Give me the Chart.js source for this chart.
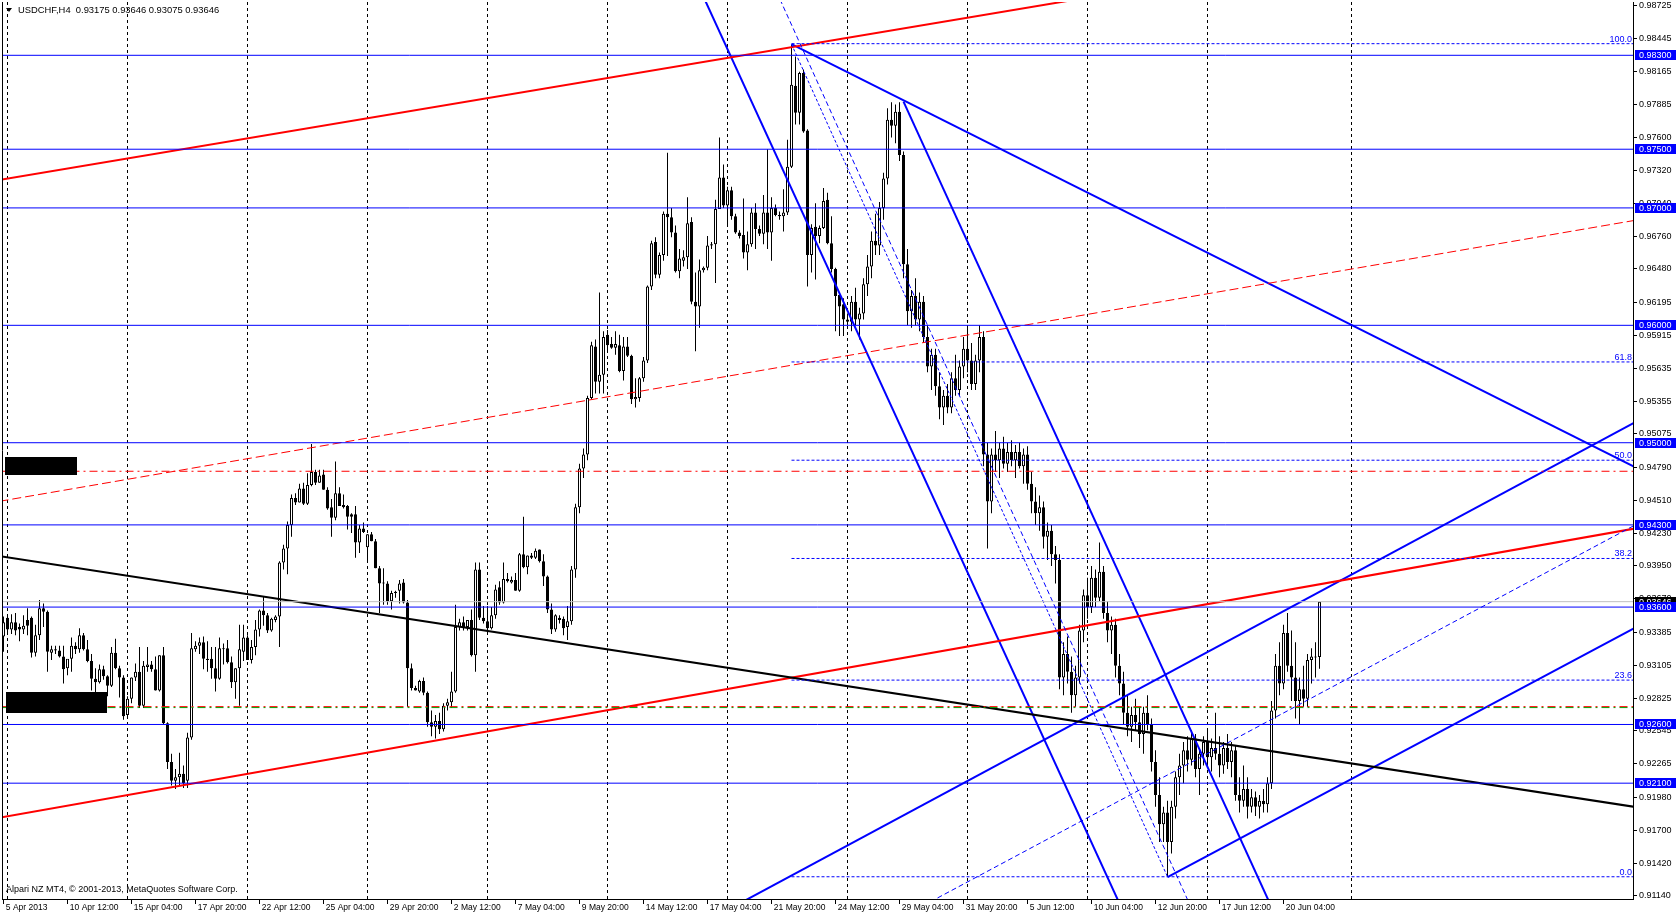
<!DOCTYPE html>
<html>
<head>
<meta charset="utf-8">
<style>
html, body { margin: 0; padding: 0; background: #fff; }
#chart { display: block; }
</style>
</head>
<body>
<canvas id="chart" width="1676" height="917"></canvas>
<script src="https://cdn.jsdelivr.net/npm/chart.js"></script>
<script>
// USDCHF H4, bar 0 = 5 Apr 2013 20:00, one entry per bar
const opens = [
  0.9335,0.9351,0.9341,0.9347,0.9343,0.9341,0.9349,0.9351,0.9321,0.9336,
  0.9359,0.9356,0.9321,0.9324,0.9323,0.9318,0.9308,0.9316,0.9327,0.9324,
  0.9336,0.9324,0.9314,0.9299,0.9296,0.9307,0.9301,0.9293,0.9321,0.9308,
  0.9300,0.9268,0.9282,0.9300,0.9305,0.9276,0.9309,0.9311,0.9307,0.9289,
  0.9319,0.9261,0.9228,0.9212,0.9215,0.9218,0.9212,0.9249,0.9324,0.9327,
  0.9330,0.9316,0.9316,0.9308,0.9299,0.9324,0.9325,0.9313,0.9296,0.9308,
  0.9322,0.9334,0.9315,0.9326,0.9341,0.9357,0.9353,0.9340,0.9349,0.9352,
  0.9398,0.9410,0.9430,0.9453,0.9449,0.9461,0.9448,0.9464,0.9475,0.9466,
  0.9473,0.9460,0.9445,0.9436,0.9457,0.9447,0.9446,0.9439,0.9439,0.9415,
  0.9427,0.9411,0.9422,0.9416,0.9393,0.9380,0.9380,0.9365,0.9372,0.9374,
  0.9381,0.9364,0.9308,0.9291,0.9288,0.9297,0.9287,0.9262,0.9258,0.9263,
  0.9256,0.9276,0.9279,0.9288,0.9343,0.9347,0.9343,0.9349,0.9319,0.9392,
  0.9351,0.9348,0.9342,0.9353,0.9377,0.9364,0.9384,0.9381,0.9383,0.9374,
  0.9405,0.9394,0.9404,0.9402,0.9409,0.9399,0.9386,0.9358,0.9341,0.9351,
  0.9350,0.9343,0.9348,0.9392,0.9445,0.9478,0.9490,0.9538,0.9582,0.9552,
  0.9558,0.9592,0.9584,0.9581,0.9583,0.9561,0.9582,0.9574,0.9537,0.9538,
  0.9555,0.9570,0.9633,0.9671,0.9643,0.9660,0.9695,0.9692,0.9679,0.9646,
  0.9655,0.9658,0.9688,0.9620,0.9616,0.9647,0.9649,0.9668,0.9669,0.9699,
  0.9726,0.9702,0.9715,0.9693,0.9679,0.9677,0.9662,0.9669,0.9696,0.9682,
  0.9678,0.9696,0.9679,0.9700,0.9694,0.9693,0.9696,0.9735,0.9804,0.9781,
  0.9815,0.9766,0.9660,0.9684,0.9676,0.9683,0.9707,0.9670,0.9648,0.9626,
  0.9618,0.9605,0.9603,0.9620,0.9605,0.9610,0.9635,0.9650,0.9672,0.9668,
  0.9700,0.9725,0.9775,0.9770,0.9782,0.9745,0.9652,0.9612,0.9625,0.9605,
  0.9620,0.9590,0.9565,0.9575,0.9548,0.9530,0.9540,0.9530,0.9555,0.9545,
  0.9565,0.9580,0.9570,0.9550,0.9570,0.9590,0.9490,0.9450,0.9490,0.9485,
  0.9495,0.9482,0.9492,0.9485,0.9492,0.9480,0.9490,0.9465,0.9450,0.9440,
  0.9445,0.9420,0.9425,0.9405,0.9400,0.9300,0.9320,0.9305,0.9285,0.9300,
  0.9340,0.9370,0.9360,0.9385,0.9368,0.9390,0.9355,0.9340,0.9345,0.9310,
  0.9295,0.9270,0.9258,0.9268,0.9262,0.9252,0.9270,0.9260,0.9228,0.9200,
  0.9175,0.9185,0.9160,0.9190,0.9215,0.9225,0.9238,0.9230,0.9248,0.9222,
  0.9235,0.9245,0.9232,0.9240,0.9235,0.9225,0.9240,0.9228,0.9238,0.9200,
  0.9195,0.9205,0.9190,0.9198,0.9190,0.9195,0.9192,0.9210,0.9272,0.9310,
  0.9295,0.9338,0.9310,0.9300,0.9280,0.9290,0.9282,0.9315,0.9318,0.93175
];
const highs = [
  0.9352,0.9354,0.9354,0.9355,0.9346,0.9353,0.9359,0.9352,0.9345,0.9366,
  0.9363,0.9357,0.9327,0.9327,0.9327,0.9327,0.9315,0.9334,0.9330,0.9342,
  0.9338,0.9332,0.9320,0.9308,0.9311,0.9310,0.9302,0.9326,0.9333,0.9310,
  0.9302,0.9284,0.9300,0.9312,0.9326,0.9314,0.9326,0.9314,0.9318,0.9319,
  0.9326,0.9262,0.9235,0.9222,0.9236,0.9225,0.9253,0.9338,0.9331,0.9334,
  0.9335,0.9331,0.9326,0.9326,0.9334,0.9329,0.9332,0.9318,0.9308,0.9345,
  0.9345,0.9336,0.9332,0.9349,0.9358,0.9369,0.9355,0.9351,0.9353,0.9399,
  0.9413,0.9433,0.9456,0.9457,0.9465,0.9466,0.9474,0.9499,0.9477,0.9477,
  0.9477,0.9462,0.9452,0.9484,0.9462,0.9456,0.9447,0.9440,0.9446,0.9430,
  0.9432,0.9422,0.9424,0.9418,0.9395,0.9393,0.9382,0.9374,0.9374,0.9383,
  0.9384,0.9366,0.9312,0.9293,0.9298,0.9300,0.9288,0.9272,0.9268,0.9270,
  0.9278,0.9282,0.9305,0.9362,0.9350,0.9352,0.9349,0.9358,0.9398,0.9398,
  0.9361,0.9361,0.9360,0.9379,0.9382,0.9398,0.9389,0.9386,0.9389,0.9406,
  0.9437,0.9404,0.9406,0.9410,0.9409,0.9405,0.9387,0.9363,0.9354,0.9353,
  0.9352,0.9361,0.9395,0.9448,0.9482,0.9495,0.9540,0.9586,0.9588,0.9628,
  0.9595,0.9596,0.9590,0.9595,0.9592,0.9590,0.9590,0.9575,0.9555,0.9556,
  0.9573,0.9634,0.9672,0.9675,0.9662,0.9697,0.9747,0.9700,0.9685,0.9665,
  0.9664,0.9709,0.9692,0.9645,0.9656,0.9650,0.9676,0.9671,0.9707,0.9760,
  0.9737,0.9718,0.9718,0.9695,0.9681,0.9708,0.9680,0.9700,0.9704,0.9685,
  0.9711,0.9750,0.9709,0.9703,0.9697,0.9716,0.9758,0.9839,0.9829,0.9816,
  0.9818,0.9767,0.9686,0.9704,0.9685,0.9717,0.9713,0.9693,0.9649,0.9626,
  0.9623,0.9610,0.9625,0.9632,0.9615,0.9640,0.9660,0.9680,0.9695,0.9705,
  0.9730,0.9785,0.9790,0.9788,0.9790,0.9748,0.9665,0.9630,0.9640,0.9628,
  0.9625,0.9600,0.9580,0.9580,0.9560,0.9545,0.9550,0.9560,0.9575,0.9570,
  0.9590,0.9600,0.9585,0.9575,0.9600,0.9595,0.9500,0.9495,0.9510,0.9500,
  0.9505,0.9500,0.9502,0.9498,0.9500,0.9495,0.9497,0.9475,0.9462,0.9455,
  0.9450,0.9432,0.9430,0.9412,0.9405,0.9330,0.9335,0.9318,0.9310,0.9345,
  0.9375,0.9385,0.9395,0.9392,0.9415,0.9395,0.9365,0.9352,0.9350,0.9320,
  0.9305,0.9285,0.9275,0.9282,0.9275,0.9275,0.9285,0.9265,0.9238,0.9215,
  0.9190,0.9195,0.9195,0.9220,0.9235,0.9245,0.9250,0.9255,0.9252,0.9240,
  0.9250,0.9255,0.9248,0.9270,0.9250,0.9245,0.9252,0.9245,0.9242,0.9215,
  0.9225,0.9215,0.9205,0.9203,0.9200,0.9205,0.9215,0.9280,0.9320,0.9330,
  0.9345,0.9355,0.9340,0.9330,0.9300,0.9310,0.9320,0.9325,0.9330,0.93646
];
const lows = [
  0.9322,0.9337,0.9337,0.9336,0.9331,0.9337,0.9336,0.9317,0.9318,0.9332,
  0.9343,0.9305,0.9315,0.9320,0.9317,0.9295,0.9302,0.9305,0.9320,0.9321,
  0.9323,0.9313,0.9289,0.9286,0.9295,0.9298,0.9284,0.9292,0.9307,0.9283,
  0.9264,0.9265,0.9278,0.9297,0.9274,0.9274,0.9305,0.9305,0.9289,0.9288,
  0.9260,0.9222,0.9208,0.9205,0.9208,0.9206,0.9206,0.9247,0.9322,0.9320,
  0.9307,0.9305,0.9299,0.9288,0.9298,0.9311,0.9312,0.9291,0.9282,0.9276,
  0.9314,0.9315,0.9312,0.9319,0.9335,0.9344,0.9338,0.9339,0.9347,0.9326,
  0.9392,0.9388,0.9420,0.9447,0.9449,0.9447,0.9447,0.9463,0.9464,0.9466,
  0.9460,0.9443,0.9420,0.9434,0.9446,0.9444,0.9426,0.9423,0.9402,0.9406,
  0.9423,0.9398,0.9416,0.9393,0.9355,0.9362,0.9362,0.9358,0.9368,0.9363,
  0.9363,0.9275,0.9289,0.9289,0.9287,0.9285,0.9258,0.9250,0.9248,0.9252,
  0.9254,0.9272,0.9274,0.9287,0.9340,0.9340,0.9340,0.9318,0.9305,0.9349,
  0.9346,0.9338,0.9341,0.9350,0.9362,0.9363,0.9381,0.9380,0.9374,0.9373,
  0.9393,0.9388,0.9401,0.9401,0.9398,0.9378,0.9355,0.9337,0.9339,0.9346,
  0.9336,0.9332,0.9345,0.9385,0.9440,0.9470,0.9485,0.9537,0.9542,0.9542,
  0.9542,0.9577,0.9580,0.9575,0.9560,0.9553,0.9573,0.9533,0.9530,0.9535,
  0.9552,0.9568,0.9630,0.9640,0.9640,0.9655,0.9659,0.9675,0.9645,0.9640,
  0.9650,0.9648,0.9618,0.9578,0.9598,0.9645,0.9647,0.9665,0.9636,0.9699,
  0.9700,0.9684,0.9690,0.9678,0.9674,0.9657,0.9647,0.9667,0.9665,0.9676,
  0.9669,0.9665,0.9655,0.9693,0.9690,0.9680,0.9694,0.9734,0.9771,0.9771,
  0.9764,0.9633,0.9645,0.9639,0.9670,0.9682,0.9669,0.9645,0.9595,0.9591,
  0.9591,0.9600,0.9595,0.9600,0.9588,0.9605,0.9625,0.9640,0.9660,0.9660,
  0.9690,0.9720,0.9760,0.9755,0.9740,0.9640,0.9600,0.9598,0.9600,0.9595,
  0.9585,0.9560,0.9545,0.9540,0.9520,0.9515,0.9525,0.9525,0.9540,0.9540,
  0.9555,0.9560,0.9545,0.9545,0.9560,0.9480,0.9410,0.9440,0.9475,0.9470,
  0.9478,0.9475,0.9480,0.9470,0.9478,0.9465,0.9460,0.9440,0.9430,0.9425,
  0.9410,0.9400,0.9395,0.9380,0.9290,0.9285,0.9295,0.9270,0.9275,0.9295,
  0.9330,0.9350,0.9355,0.9360,0.9365,0.9350,0.9330,0.9320,0.9300,0.9285,
  0.9260,0.9250,0.9245,0.9255,0.9240,0.9235,0.9255,0.9220,0.9190,0.9160,
  0.9160,0.9130,0.9150,0.9180,0.9200,0.9210,0.9220,0.9225,0.9215,0.9200,
  0.9225,0.9225,0.9220,0.9230,0.9215,0.9218,0.9222,0.9215,0.9195,0.9185,
  0.9190,0.9180,0.9185,0.9182,0.9180,0.9185,0.9185,0.9205,0.9265,0.9285,
  0.9290,0.9305,0.9280,0.9265,0.9260,0.9275,0.9275,0.9295,0.9300,0.93075
];
const closes = [
  0.9347,0.9341,0.9347,0.9340,0.9341,0.9344,0.9344,0.9321,0.9336,0.9359,
  0.9356,0.9322,0.9324,0.9323,0.9318,0.9307,0.9316,0.9327,0.9324,0.9336,
  0.9324,0.9314,0.9299,0.9296,0.9307,0.9301,0.9293,0.9321,0.9308,0.9300,
  0.9267,0.9282,0.9300,0.9305,0.9276,0.9310,0.9311,0.9307,0.9289,0.9319,
  0.9261,0.9228,0.9212,0.9215,0.9218,0.9210,0.9249,0.9325,0.9327,0.9330,
  0.9316,0.9315,0.9308,0.9299,0.9325,0.9325,0.9313,0.9296,0.9308,0.9324,
  0.9334,0.9315,0.9326,0.9341,0.9357,0.9353,0.9340,0.9350,0.9352,0.9398,
  0.9410,0.9430,0.9453,0.9449,0.9461,0.9448,0.9464,0.9475,0.9466,0.9472,
  0.9460,0.9444,0.9436,0.9457,0.9446,0.9445,0.9437,0.9437,0.9415,0.9427,
  0.9424,0.9422,0.9416,0.9393,0.9380,0.9381,0.9365,0.9372,0.9373,0.9380,
  0.9364,0.9308,0.9291,0.9289,0.9297,0.9287,0.9262,0.9258,0.9263,0.9256,
  0.9276,0.9279,0.9288,0.9343,0.9347,0.9343,0.9349,0.9319,0.9392,0.9351,
  0.9348,0.9342,0.9353,0.9375,0.9364,0.9384,0.9382,0.9383,0.9374,0.9405,
  0.9394,0.9404,0.9402,0.9408,0.9399,0.9386,0.9358,0.9341,0.9353,0.9349,
  0.9342,0.9348,0.9392,0.9445,0.9478,0.9490,0.9538,0.9583,0.9552,0.9558,
  0.9590,0.9583,0.9581,0.9584,0.9561,0.9582,0.9574,0.9537,0.9539,0.9555,
  0.9570,0.9633,0.9670,0.9643,0.9660,0.9695,0.9692,0.9679,0.9646,0.9657,
  0.9658,0.9687,0.9620,0.9616,0.9647,0.9649,0.9668,0.9669,0.9699,0.9726,
  0.9702,0.9715,0.9693,0.9679,0.9676,0.9662,0.9669,0.9696,0.9682,0.9678,
  0.9696,0.9679,0.9700,0.9694,0.9693,0.9696,0.9735,0.9805,0.9781,0.9815,
  0.9765,0.9660,0.9683,0.9676,0.9683,0.9706,0.9670,0.9648,0.9625,0.9616,
  0.9605,0.9603,0.9620,0.9605,0.9610,0.9635,0.9650,0.9672,0.9668,0.9700,
  0.9725,0.9775,0.9770,0.9782,0.9745,0.9652,0.9612,0.9625,0.9605,0.9620,
  0.9590,0.9565,0.9575,0.9548,0.9530,0.9540,0.9530,0.9555,0.9545,0.9565,
  0.9580,0.9570,0.9550,0.9570,0.9590,0.9490,0.9450,0.9490,0.9485,0.9495,
  0.9482,0.9492,0.9485,0.9492,0.9480,0.9490,0.9465,0.9450,0.9440,0.9445,
  0.9420,0.9425,0.9405,0.9400,0.9300,0.9320,0.9305,0.9285,0.9300,0.9340,
  0.9370,0.9360,0.9385,0.9368,0.9390,0.9355,0.9340,0.9345,0.9310,0.9295,
  0.9270,0.9258,0.9268,0.9262,0.9252,0.9270,0.9260,0.9228,0.9200,0.9175,
  0.9185,0.9160,0.9190,0.9215,0.9225,0.9238,0.9230,0.9248,0.9222,0.9235,
  0.9245,0.9232,0.9240,0.9235,0.9225,0.9240,0.9228,0.9238,0.9200,0.9195,
  0.9205,0.9190,0.9198,0.9190,0.9195,0.9192,0.9210,0.9272,0.9310,0.9295,
  0.9338,0.9310,0.9300,0.9280,0.9290,0.9282,0.9315,0.9318,0.9317,0.93646
];

// time axis: one label every 16 bars, dashed grid on each Monday bar
const dateTicks = ['5 Apr 2013', '10 Apr 12:00', '15 Apr 04:00', '17 Apr 20:00', '22 Apr 12:00',
  '25 Apr 04:00', '29 Apr 20:00', '2 May 12:00', '7 May 04:00', '9 May 20:00', '14 May 12:00',
  '17 May 04:00', '21 May 20:00', '24 May 12:00', '29 May 04:00', '31 May 20:00', '5 Jun 12:00',
  '10 Jun 04:00', '12 Jun 20:00', '17 Jun 12:00', '20 Jun 04:00'];
const weekStarts = [1, 31, 61, 91, 121, 151, 181, 211, 241, 271, 301, 337];
const priceTicks = [0.98725, 0.98445, 0.98165, 0.97885, 0.97600, 0.97320, 0.97040, 0.96760,
  0.96480, 0.96195, 0.95915, 0.95635, 0.95355, 0.95075, 0.94790, 0.94510, 0.94230, 0.93950,
  0.93670, 0.93385, 0.93105, 0.92825, 0.92545, 0.92265, 0.91980, 0.91700, 0.91420, 0.91140];

// horizontal levels and the current price
const levels = [0.983, 0.975, 0.970, 0.960, 0.950, 0.943, 0.936, 0.926, 0.921];
const lastPrice = 0.93646;
const redDashDotLevel = 0.94757;
const redGreenLevel = [0.92752, 0.92744];

// fibonacci retracement, from bar 197 high to bar 291 low
const fibNames = ['0.0', '23.6', '38.2', '50.0', '61.8', '100.0'];
const fibPrices = [0.91303, 0.92978, 0.94014, 0.94851, 0.95688, 0.98399];
const fibStart = 197;

// trend lines as [bar, price] end points
const redTop = [[-1, 0.97238], [408, 0.99574]];
const redBottom = [[-1, 0.91806], [408, 0.94270]];
const redMid = [[-1, 0.94501], [408, 0.96895]];
const blackTrend = [[-1, 0.94034], [408, 0.91897]];
const downA = [[170, 0.99169], [290, 0.90258]];
const downB = [[225, 0.97906], [330, 0.90076]];
const downMid = [[190, 0.99087], [300, 0.90808]];
const peakLine = [[197, 0.98395], [408, 0.94789]];
const upC = [[180, 0.91002], [408, 0.95176]];
const upD = [[291, 0.91300], [408, 0.93426]];
const upMid = [[200, 0.90512], [408, 0.94301]];
const fibDiag = [[197, 0.98395], [291, 0.91303]];

// black label blocks: [from bar, to bar, top price, bottom price]
const blackBoxes = [[0.45, 18.4, 0.94878, 0.94725], [0.6, 25.8, 0.92879, 0.92700]];

const FONT = '"Liberation Sans", Arial, sans-serif';
const BLUE = '#0000ff', RED = '#ff0000';

const idx = closes.map((c, i) => i);

function seg(pts, color, width, dash) {
  return {
    type: 'line', xAxisID: 'x', yAxisID: 'y',
    data: pts.map(p => ({x: p[0], y: p[1]})),
    borderColor: color, borderWidth: width, borderDash: dash || [],
    pointRadius: 0, fill: false, tension: 0, clip: 0, order: 1
  };
}
function hline(v, color, width, dash, from) {
  return seg([[from === undefined ? -1 : from, v], [408, v]], color, width, dash);
}

const datasets = [];
// objects on top of the candles
levels.forEach(v => datasets.push(hline(v, BLUE, 1)));
datasets.push(hline(lastPrice, '#c0c0c0', 1));
datasets.push(hline(redDashDotLevel, RED, 1, [8, 4, 2, 4]));
datasets.push(hline(redGreenLevel[1], '#00a000', 1, [8, 4, 2, 4]));
datasets.push(hline(redGreenLevel[0], RED, 1, [8, 4, 2, 4]));
fibPrices.forEach(v => datasets.push(hline(v, BLUE, 1, [3, 2], fibStart)));
datasets.push(seg(fibDiag, BLUE, 1, [3, 2]));
datasets.push(seg(redMid, RED, 1, [9, 4]));
datasets.push(seg(downMid, BLUE, 1, [5, 3]));
datasets.push(seg(upMid, BLUE, 1, [5, 3]));
datasets.push(seg(blackTrend, '#000', 2));
datasets.push(seg(redTop, RED, 2));
datasets.push(seg(redBottom, RED, 2));
datasets.push(seg(downA, BLUE, 2));
datasets.push(seg(downB, BLUE, 2));
datasets.push(seg(peakLine, BLUE, 2));
datasets.push(seg(upC, BLUE, 2));
datasets.push(seg(upD, BLUE, 2));

// candles: wick bars and body bars
datasets.push({
  type: 'bar', xAxisID: 'x', yAxisID: 'y', order: 3,
  data: idx.map(i => ({x: i, y: [opens[i], closes[i]]})),
  backgroundColor: idx.map(i => closes[i] >= opens[i] ? '#ffffff' : '#000000'),
  borderColor: '#000', borderWidth: 1, borderSkipped: false,
  barThickness: 3, grouped: false, minBarLength: 1, inflateAmount: 0
});
datasets.push({
  type: 'bar', xAxisID: 'x', yAxisID: 'y', order: 4,
  data: idx.map(i => ({x: i, y: [lows[i], highs[i]]})),
  backgroundColor: '#000', borderWidth: 0,
  barThickness: 1, grouped: false, inflateAmount: 0
});

const overlay = {
  id: 'overlay',
  afterDatasetsDraw(chart) {
    const {ctx, chartArea: a, scales: {x, y}} = chart;
    ctx.save();
    ctx.fillStyle = '#000';
    blackBoxes.forEach(b => {
      const x0 = x.getPixelForValue(b[0]), x1 = x.getPixelForValue(b[1]);
      const y0 = y.getPixelForValue(b[2]), y1 = y.getPixelForValue(b[3]);
      ctx.fillRect(Math.round(x0), Math.round(y0), Math.round(x1 - x0), Math.round(y1 - y0));
    });
    ctx.font = '9px ' + FONT;
    ctx.fillStyle = BLUE;
    ctx.textAlign = 'right';
    ctx.textBaseline = 'alphabetic';
    fibPrices.forEach((p, i) => ctx.fillText(fibNames[i], a.right - 1, y.getPixelForValue(p) - 2));

    // header
    ctx.fillStyle = '#000';
    ctx.beginPath();
    ctx.moveTo(6, 8); ctx.lineTo(12, 8); ctx.lineTo(9, 12); ctx.closePath(); ctx.fill();
    ctx.textAlign = 'left';
    ctx.font = '9.4px ' + FONT;
    ctx.fillText('USDCHF,H4  0.93175 0.93646 0.93075 0.93646', 18, 13);
    ctx.font = '9px ' + FONT;
    ctx.fillText('Alpari NZ MT4, \u00a9 2001-2013, MetaQuotes Software Corp.', 6, 892);

    // left frame line
    ctx.strokeStyle = '#000';
    ctx.lineWidth = 1;
    ctx.beginPath();
    ctx.moveTo(a.left + 0.5, a.top); ctx.lineTo(a.left + 0.5, a.bottom);
    ctx.stroke();
    ctx.restore();
  },
  afterDraw(chart) {
    const {ctx, chartArea: a, scales: {y}} = chart;
    ctx.save();
    ctx.font = '9px ' + FONT;
    ctx.textAlign = 'left';
    ctx.textBaseline = 'middle';
    const tag = (v, bg) => {
      const py = Math.round(y.getPixelForValue(v));
      ctx.fillStyle = bg;
      ctx.fillRect(a.right + 2, py - 5, 41, 10);
      ctx.fillStyle = '#fff';
      ctx.fillText(v.toFixed(5), a.right + 6, py + 0.5);
    };
    tag(lastPrice, '#000');
    levels.forEach(v => tag(v, BLUE));
    ctx.restore();
  }
};

new Chart(document.getElementById('chart'), {
  type: 'bar',
  data: {datasets},
  options: {
    responsive: false,
    animation: false,
    devicePixelRatio: 1,
    events: [],
    layout: {padding: {left: 2, top: 2, right: 0, bottom: 0}},
    plugins: {legend: {display: false}, tooltip: {enabled: false}},
    scales: {
      x: {
        type: 'linear', position: 'bottom', min: -0.375, max: 407.375, offset: false,
        afterBuildTicks: s => { s.ticks = dateTicks.map((t, i) => ({value: i * 16})); },
        afterFit: s => { s.height = 18; s.paddingLeft = 0; s.paddingRight = 0; },
        ticks: {
          autoSkip: false, maxRotation: 0, minRotation: 0, align: 'start', padding: -1,
          color: '#000', font: {family: FONT, size: 8.5},
          callback: v => ' ' + dateTicks[Math.round(v / 16)]
        },
        grid: {offset: false, drawOnChartArea: false, drawTicks: true, tickLength: 5, color: '#000'},
        border: {display: true, color: '#000', width: 1}
      },
      xw: {
        type: 'linear', position: 'bottom', min: -0.375, max: 407.375, offset: false,
        afterBuildTicks: s => { s.ticks = weekStarts.map(v => ({value: v})); },
        afterFit: s => { s.height = 0; s.paddingLeft = 0; s.paddingRight = 0; },
        ticks: {display: false},
        grid: {offset: false, drawOnChartArea: true, drawTicks: false, color: '#000', lineWidth: 1},
        border: {display: false, dash: [3, 3]}
      },
      y: {
        type: 'linear', position: 'right', min: 0.911135, max: 0.98754,
        afterBuildTicks: s => { s.ticks = priceTicks.map(v => ({value: v})); },
        afterFit: s => { s.width = 43; s.paddingTop = 0; s.paddingBottom = 0; },
        ticks: {
          autoSkip: false, padding: 2, color: '#000', font: {family: FONT, size: 9},
          callback: v => v.toFixed(5)
        },
        grid: {drawOnChartArea: false, drawTicks: true, tickLength: 4, color: '#000'},
        border: {display: true, color: '#000', width: 1}
      }
    }
  },
  plugins: [overlay]
});
</script>
</body>
</html>
